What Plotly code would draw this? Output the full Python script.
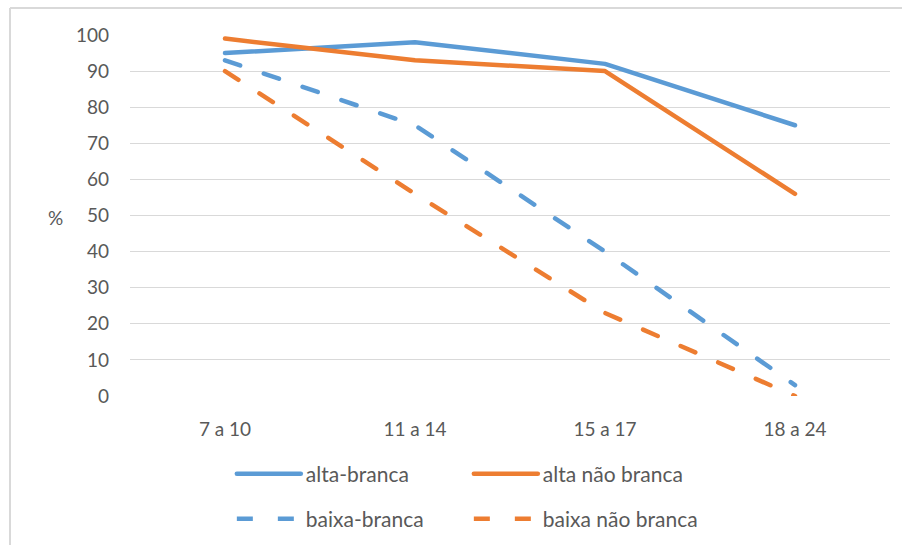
import plotly.graph_objects as go

# Age groups on the x axis
categories = ["7 a 10", "11 a 14", "15 a 17", "18 a 24"]

# Percentages per group
alta_branca = [95, 98, 92, 75]
alta_nao_branca = [99, 93, 90, 56]
baixa_branca = [93, 75, 40, 3]
baixa_nao_branca = [90, 56, 23, 0]

y_ticks = list(range(0, 101, 10))

BLUE = "#5B9BD5"
ORANGE = "#ED7D31"
TEXT = "#595959"
GRID = "#D9D9D9"
FONT = "Lato, 'Open Sans', sans-serif"
FS = 19
LEG_FS = 21
DASH = "16px,25px"

fig = go.Figure()

series = [
    ("alta-branca", alta_branca, BLUE, "solid", "legend"),
    ("alta não branca", alta_nao_branca, ORANGE, "solid", "legend"),
    ("baixa-branca", baixa_branca, BLUE, DASH, "legend2"),
    ("baixa não branca", baixa_nao_branca, ORANGE, DASH, "legend2"),
]
for name, values, color, dash, leg in series:
    fig.add_trace(go.Scatter(
        x=categories, y=values, name=name, mode="lines",
        line=dict(color=color, width=4.5, dash=dash),
        legend=leg,
    ))

legend_common = dict(
    orientation="h",
    xanchor="left",
    yanchor="middle",
    entrywidth=158,
    entrywidthmode="pixels",
    itemwidth=64,
    font=dict(family=FONT, size=LEG_FS, color=TEXT),
    bgcolor="rgba(0,0,0,0)",
    traceorder="normal",
)

fig.update_layout(
    width=902,
    height=545,
    margin=dict(l=130, r=12, t=35, b=149, autoexpand=False),
    paper_bgcolor="white",
    plot_bgcolor="white",
    font=dict(family=FONT, size=FS, color=TEXT),
    showlegend=True,
    legend=dict(x=0.134, y=-0.216, **legend_common),
    legend2=dict(x=0.134, y=-0.341, **legend_common),
    xaxis=dict(
        type="category",
        range=[-0.5, 3.5],
        showgrid=False,
        showline=False,
        zeroline=False,
        ticks="",
        ticklabelstandoff=20,
        tickfont=dict(family=FONT, size=FS, color=TEXT),
    ),
    yaxis=dict(
        range=[0, 100],
        tickvals=y_ticks,
        showgrid=True,
        gridcolor=GRID,
        gridwidth=1,
        zeroline=False,
        showline=False,
        ticks="",
        ticklabelstandoff=20,
        tickfont=dict(family=FONT, size=FS, color=TEXT),
    ),
    annotations=[dict(
        text="%", xref="paper", yref="paper",
        x=(55 - 130) / 760, y=(396 - 217) / 361,
        xanchor="center", yanchor="middle", showarrow=False,
        font=dict(family=FONT, size=FS, color=TEXT),
    )],
    shapes=[
        # chart frame: top and left edges
        dict(type="line", xref="paper", yref="paper",
             x0=(10 - 130) / 760, x1=1.2, y0=(396 - 8) / 361, y1=(396 - 8) / 361,
             line=dict(color=GRID, width=2)),
        dict(type="line", xref="paper", yref="paper",
             x0=(10 - 130) / 760, x1=(10 - 130) / 760,
             y0=(396 - 8) / 361, y1=-0.6,
             line=dict(color=GRID, width=2)),
    ],
)

round_caps = """
var gd = document.getElementById('{plot_id}');
gd.querySelectorAll('.scatterlayer path, .legend path').forEach(function(p){
  p.style.strokeLinecap = 'round';
  p.style.strokeLinejoin = 'round';
});
"""

fig.write_html("out.html", post_script=round_caps)
